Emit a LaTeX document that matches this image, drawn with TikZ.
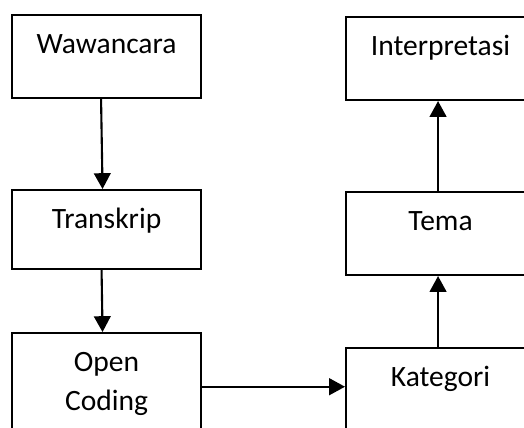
\documentclass[tikz,border=0pt]{standalone}
\usepackage{fontspec}
\setmainfont{Carlito}
\usepackage{tikz}
\usetikzlibrary{arrows.meta,positioning}

\begin{document}
\begin{tikzpicture}[
        line width=1.2pt,
        box/.style={rectangle, draw, anchor=north west, inner sep=0pt,
            minimum width=3.78cm, text width=3.78cm, align=center,
            text height=22pt, text depth=25.2pt,
            font=\fontsize{16.8}{22.2}\selectfont},
        flow/.style={-{Triangle[width=9.5pt,length=9pt]}}
    ]
        \useasboundingbox (0,0) rectangle (10.48,-8.54);
        \clip (0,0) rectangle (10.48,-8.54);
        \node[box] (w) at (0.22,-0.28) {Wawancara};
        \node[box, text depth=23pt] (t) at (0.22,-3.78) {Transkrip};
        \node[box, text depth=60pt] (o) at (0.22,-6.64) {Open\\Coding};
        \node[box] (i) at (6.90,-0.32) {Interpretasi};
        \node[box] (m) at (6.90,-3.82) {Tema};
        \node[box] (k) at (6.90,-6.94) {Kategori};
        \draw[flow] ([xshift=-0.11cm]w.south) -- ([xshift=-0.08cm]t.north);
        \draw[flow] ([xshift=-0.1cm]t.south) -- ([xshift=-0.08cm]o.north);
        \draw[flow] (o.east |- k.base west) -- (k.base west);
        \draw[flow] ([xshift=-0.05cm]k.north) -- ([xshift=-0.05cm]m.south);
        \draw[flow] ([xshift=-0.05cm]m.north) -- ([xshift=-0.05cm]i.south);
    \end{tikzpicture}
\end{document}
